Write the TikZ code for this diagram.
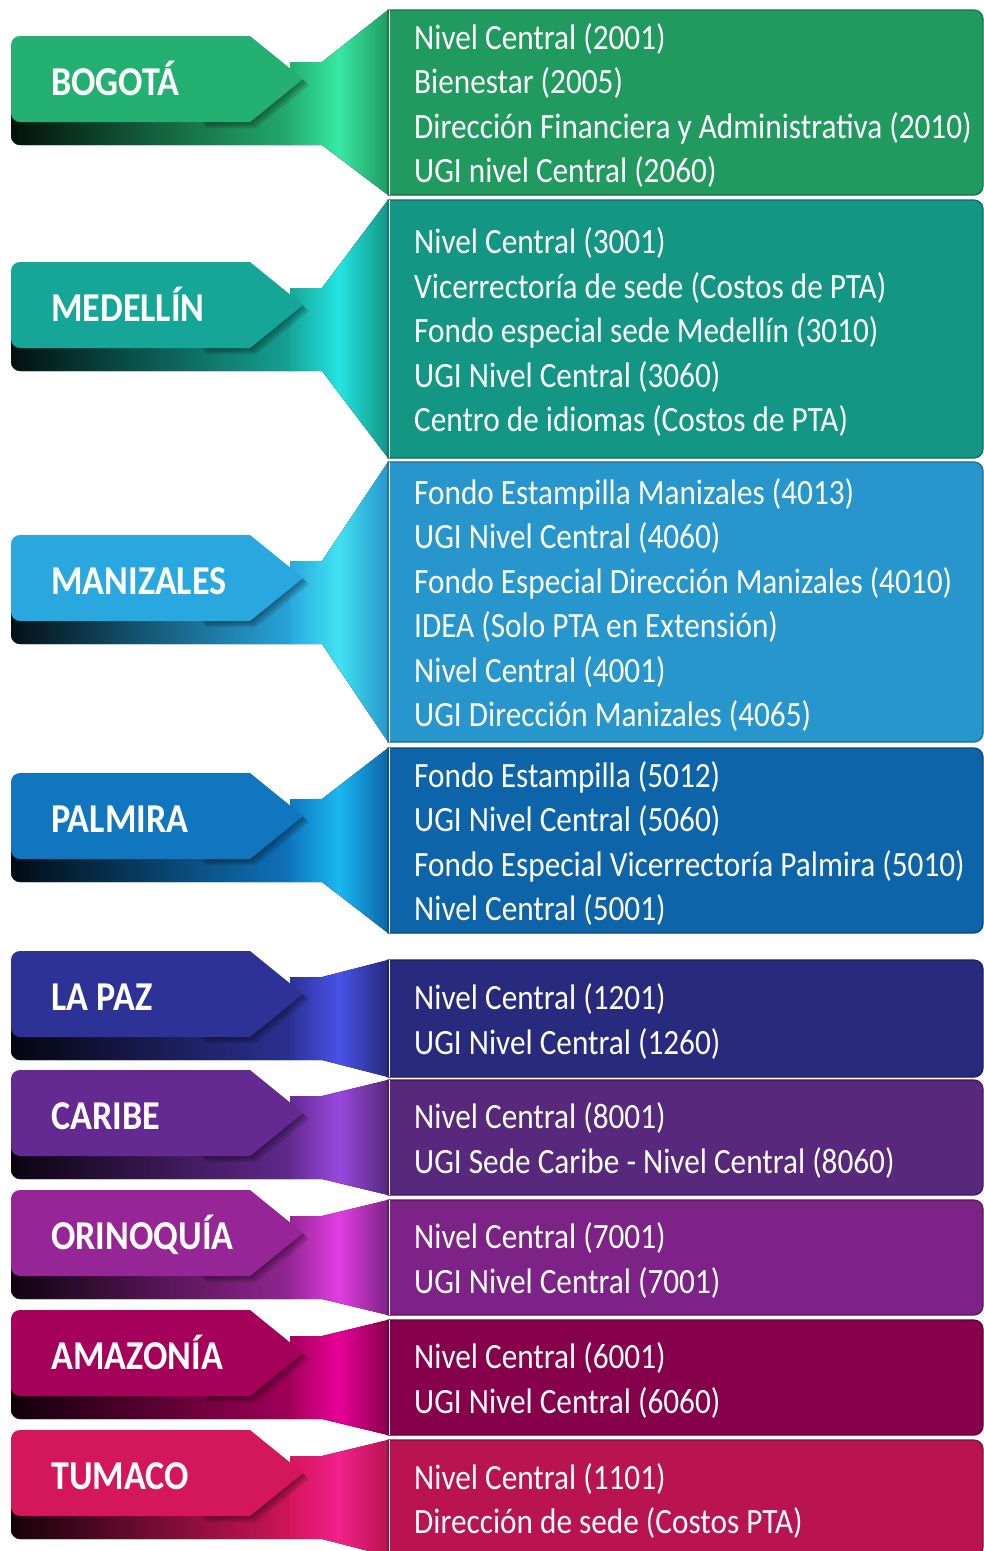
\documentclass[tikz,border=0pt]{standalone}
\usepackage{fontspec}
\setmainfont{Carlito}[FakeStretch=0.88]
\usepackage{tikz}
\definecolor{bogtag}{RGB}{36, 176, 112}
\definecolor{bogbox}{RGB}{33, 154, 95}
\definecolor{boghi}{RGB}{55, 232, 165}
\definecolor{medtag}{RGB}{22, 166, 152}
\definecolor{medbox}{RGB}{19, 150, 132}
\definecolor{medhi}{RGB}{35, 228, 226}
\definecolor{mantag}{RGB}{41, 168, 224}
\definecolor{manbox}{RGB}{38, 150, 204}
\definecolor{manhi}{RGB}{64, 226, 240}
\definecolor{paltag}{RGB}{16, 118, 192}
\definecolor{palbox}{RGB}{14, 100, 168}
\definecolor{palhi}{RGB}{24, 184, 240}
\definecolor{paztag}{RGB}{45, 50, 150}
\definecolor{pazbox}{RGB}{40, 42, 125}
\definecolor{pazhi}{RGB}{72, 82, 230}
\definecolor{cartag}{RGB}{100, 42, 145}
\definecolor{carbox}{RGB}{88, 40, 125}
\definecolor{carhi}{RGB}{152, 72, 222}
\definecolor{oritag}{RGB}{150, 38, 150}
\definecolor{oribox}{RGB}{125, 35, 135}
\definecolor{orihi}{RGB}{226, 62, 226}
\definecolor{amatag}{RGB}{165, 0, 90}
\definecolor{amabox}{RGB}{135, 0, 75}
\definecolor{amahi}{RGB}{232, 0, 152}
\definecolor{tumtag}{RGB}{212, 22, 90}
\definecolor{tumbox}{RGB}{185, 20, 80}
\definecolor{tumhi}{RGB}{242, 32, 140}

\begin{document}
\begin{tikzpicture}[
    x=1pt, y=-1pt,
    tagtxt/.style={font=\bfseries\fontsize{41}{44}\selectfont, text=white,
                   anchor=base west, inner sep=0pt},
    boxtxt/.style={font=\fontsize{35.5}{44.5}\selectfont, text=white,
                   align=left, anchor=west, inner sep=0pt},
  ]
    \useasboundingbox (0,0) rectangle (984,1551);

    % one row per sede: tag, funnel, box with its cost centres
    \foreach \id/\lab/\ly/\bt/\bb/\lines in {
        bog/BOGOTÁ/82/10/195/{Nivel Central (2001)\\Bienestar (2005)\\Dirección Financiera y Administrativa (2010)\\UGI nivel Central (2060)},
        med/MEDELLÍN/308/200/458/{Nivel Central (3001)\\Vicerrectoría de sede (Costos de PTA)\\Fondo especial sede Medellín (3010)\\UGI Nivel Central (3060)\\Centro de idiomas (Costos de PTA)},
        man/MANIZALES/581/462/742/{Fondo Estampilla Manizales (4013)\\UGI Nivel Central (4060)\\Fondo Especial Dirección Manizales (4010)\\IDEA (Solo PTA en Extensión)\\Nivel Central (4001)\\UGI Dirección Manizales (4065)},
        pal/PALMIRA/819/748/933/{Fondo Estampilla (5012)\\UGI Nivel Central (5060)\\Fondo Especial Vicerrectoría Palmira (5010)\\Nivel Central (5001)},
        paz/LA PAZ/997/960/1077/{Nivel Central (1201)\\UGI Nivel Central (1260)},
        car/CARIBE/1116/1080/1195/{Nivel Central (8001)\\UGI Sede Caribe - Nivel Central (8060)},
        ori/ORINOQUÍA/1236/1200/1315/{Nivel Central (7001)\\UGI Nivel Central (7001)},
        ama/AMAZONÍA/1356/1320/1435/{Nivel Central (6001)\\UGI Nivel Central (6060)},
        tum/TUMACO/1476/1440/1556/{Nivel Central (1101)\\Dirección de sede (Costos PTA)}%
      }{
      % dark fold under the tag
      \fill[left color=black!90!\id tag, right color=\id tag, rounded corners=9]
        (11,\ly) rectangle (300,\ly+63);
      % funnel from tag to box
      \fill[left color=\id tag, right color=\id box, middle color=\id hi]
        (290,\ly-20) -- (322,\ly-20) -- (388,\bt) -- (388,\bb)
        -- (322,\ly+63) -- (290,\ly+63) -- cycle;
      % tag, with a soft shadow under its point
      \foreach \s in {2,4,6}
        \fill[black, opacity=0.13, xshift=\s pt, yshift=-\s pt]
          (250,\ly-46) -- (303,\ly-3) -- (250,\ly+40) -- (200,\ly+40) -- (200,\ly-46) -- cycle;
      \fill[\id tag] (250,\ly-46) -- (303,\ly-3) -- (250,\ly+40)
        [rounded corners=9] -- (11,\ly+40) -- (11,\ly-46) [sharp corners] -- cycle;
      \node[tagtxt] (tag-\id) at (51,\ly+13) {\lab};
      % box
      \filldraw[fill=\id box, draw=\id box!70!black, line width=1.2pt]
        (388,\bt) [rounded corners=9] -- (983,\bt) -- (983,\bb)
        [sharp corners] -- (388,\bb) -- cycle;
      \draw[white, line width=1.5pt] (389.5,\bt) -- (389.5,\bb);
      \node[boxtxt] (box-\id) at (414,{(\bt+\bb)/2+3}) {\lines};
    }
  \end{tikzpicture}
\end{document}
